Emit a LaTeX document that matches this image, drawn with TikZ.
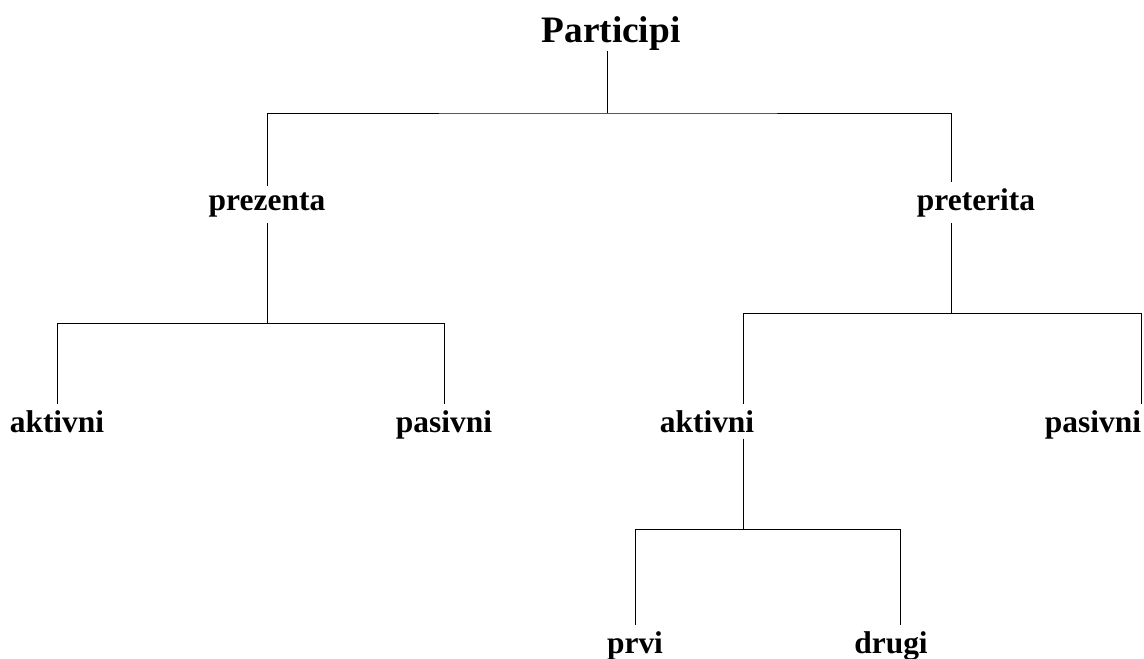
\documentclass[tikz,border=0pt]{standalone}
\usepackage{fontspec}
\setmainfont{Liberation Serif}
\usetikzlibrary{calc}
\tikzset{
    x=0.75pt, y=-0.75pt, line width=1.5pt,
    word/.style={font=\fontsize{23.6}{28}\selectfont\bfseries, inner xsep=0pt, inner ysep=4.5pt, anchor=base},
    head/.style={word, font=\fontsize{28}{33}\selectfont\bfseries, inner ysep=0.5pt}
}
\begin{document}
\begin{tikzpicture}
  \useasboundingbox (0,0) rectangle (1144,658);

  \node[head] (root) at (611,42) {Participi};

  \node[word] (prez) at (267,210) {prezenta};

  \node[word] (pret) at (976,210) {preterita};

  \node[word] (akt1) at (57,432) {aktivni};

  \node[word] (pas1) at (444,432) {pasivni};

  \node[word] (akt2) at (707,432) {aktivni};

  \node[word] (pas2) at (1093,432) {pasivni};

  \node[word] (prvi) at (635,653) {prvi};

  \node[word] (drugi) at (891,653) {drugi};

  % joints of the bars
  \coordinate (j0) at (607,113);
  \coordinate (j1) at (267,323);
  \coordinate (j2) at (951,313);
  \coordinate (j3) at (743,529);

  \draw ($(root.south)+(-4,0)$) -- (j0);
  \draw (prez.north) |- (j0) -| ($(pret.north)+(-25,0)$);

  \draw (prez.south) -- (j1);
  \draw (akt1.north) |- (j1) -| (pas1.north);

  \draw ($(pret.south)+(-25,0)$) -- (j2);
  \draw ($(akt2.north)+(36,0)$) |- (j2) -| ($(pas2.north)+(48,0)$);

  \draw ($(akt2.south)+(36,0)$) -- (j3);
  \draw (prvi.north) |- (j3) -| ($(drugi.north)+(9,0)$);
\end{tikzpicture}
\end{document}
